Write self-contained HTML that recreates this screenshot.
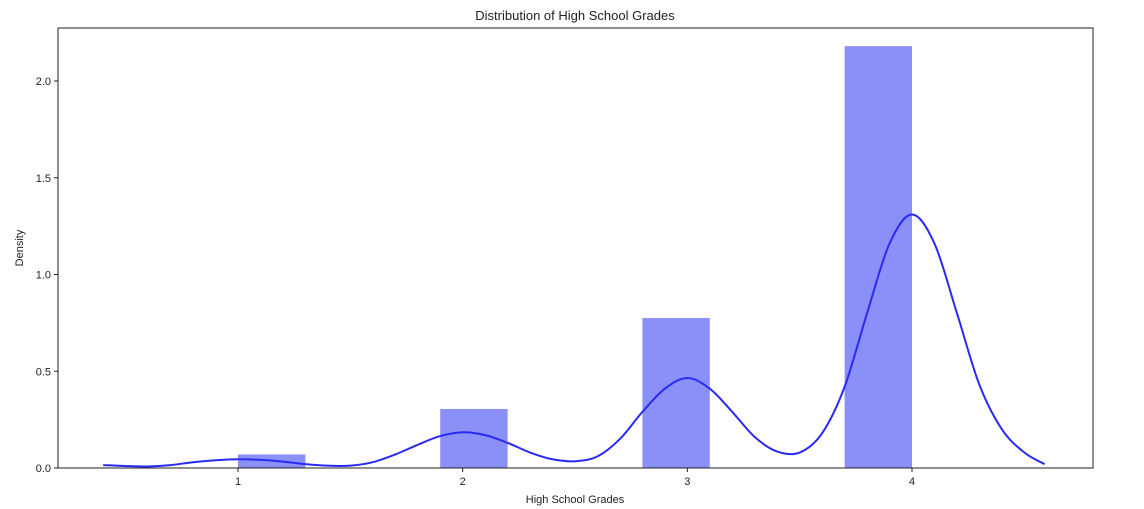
<!DOCTYPE html>
<html><head><meta charset="utf-8">
<style>
html,body{margin:0;padding:0;background:#fff;}
svg{display:block;font-family:"Liberation Sans","DejaVu Sans",sans-serif;}
</style></head>
<body>
<svg id="chart" width="1144" height="509" viewBox="0 0 1144 509">
  <text x="575" y="20" text-anchor="middle" font-size="13" fill="#222">Distribution of High School Grades</text>
  <g id="bars"></g>
  <g id="kde"></g>
  <rect x="58" y="28" width="1035" height="440" fill="none" stroke="#222" stroke-width="1"/>
  <g id="xticks"></g>
  <g id="yticks"></g>
  <text x="575" y="503" text-anchor="middle" font-size="11" fill="#222">High School Grades</text>
  <text transform="translate(23,248) rotate(-90)" text-anchor="middle" font-size="11" fill="#222">Density</text>
</svg>
<script>
const binStarts = [1.0, 1.9, 2.8, 3.7];
const binDensity = [0.07, 0.305, 0.775, 2.18];
const binWidth = 0.3;
const kdeX = [0.4,0.5,0.6,0.7,0.8,0.9,1.0,1.1,1.2,1.3,1.4,1.5,1.6,1.7,1.8,1.9,2.0,2.1,2.2,2.3,2.4,2.5,2.6,2.7,2.8,2.9,3.0,3.1,3.2,3.3,3.4,3.5,3.6,3.7,3.8,3.9,4.0,4.1,4.2,4.3,4.4,4.5,4.59];
const kdeY = [0.015,0.01,0.008,0.015,0.03,0.04,0.045,0.042,0.033,0.02,0.012,0.012,0.03,0.07,0.12,0.165,0.185,0.17,0.13,0.08,0.045,0.035,0.06,0.15,0.29,0.41,0.465,0.41,0.29,0.16,0.085,0.08,0.18,0.42,0.8,1.16,1.31,1.16,0.8,0.43,0.2,0.08,0.02];
const xTicks = [1,2,3,4];
const yTicks = [0.0,0.5,1.0,1.5,2.0];

const NS = "http://www.w3.org/2000/svg";
const xs = v => 238 + (v - 1) * 224.67;
const ys = v => 468 - v * 193.5;
function mk(tag, attrs, parent){const e=document.createElementNS(NS,tag);for(const k in attrs)e.setAttribute(k,attrs[k]);parent.appendChild(e);return e;}

const gb = document.getElementById('bars');
binStarts.forEach((s,i)=>{
  const r = mk('rect',{x:xs(s),y:ys(binDensity[i]),width:xs(s+binWidth)-xs(s),height:ys(0)-ys(binDensity[i]),fill:'#8a90f8'},gb);
  
  
});

const pts = kdeX.map((x,i)=>[xs(x), ys(kdeY[i])]);
let d = 'M' + pts[0][0] + ',' + pts[0][1];
for(let i=0;i<pts.length-1;i++){
  const p0=pts[Math.max(0,i-1)],p1=pts[i],p2=pts[i+1],p3=pts[Math.min(pts.length-1,i+2)];
  const c1=[p1[0]+(p2[0]-p0[0])/6,p1[1]+(p2[1]-p0[1])/6];
  const c2=[p2[0]-(p3[0]-p1[0])/6,p2[1]-(p3[1]-p1[1])/6];
  d+=' C'+c1[0]+','+c1[1]+' '+c2[0]+','+c2[1]+' '+p2[0]+','+p2[1];
}
const line = mk('path',{d:d,fill:'none',stroke:'#2a2af5','stroke-width':2},document.getElementById('kde'));



const gx = document.getElementById('xticks');
xTicks.forEach(t=>{
  const l = mk('line',{x1:xs(t),x2:xs(t),y1:468,y2:472,stroke:'#222'},gx);
  
  
  const tx = mk('text',{x:xs(t),y:485,'text-anchor':'middle','font-size':11,fill:'#222'},gx);
  tx.textContent = t;
  
  
});
const gy = document.getElementById('yticks');
yTicks.forEach(t=>{
  const l = mk('line',{x1:54,x2:58,y1:ys(t),y2:ys(t),stroke:'#222'},gy);
  
  
  const tx = mk('text',{x:51,y:ys(t)+4,'text-anchor':'end','font-size':11,fill:'#222'},gy);
  tx.textContent = t.toFixed(1);
  
  
});
</script>
</body></html>
